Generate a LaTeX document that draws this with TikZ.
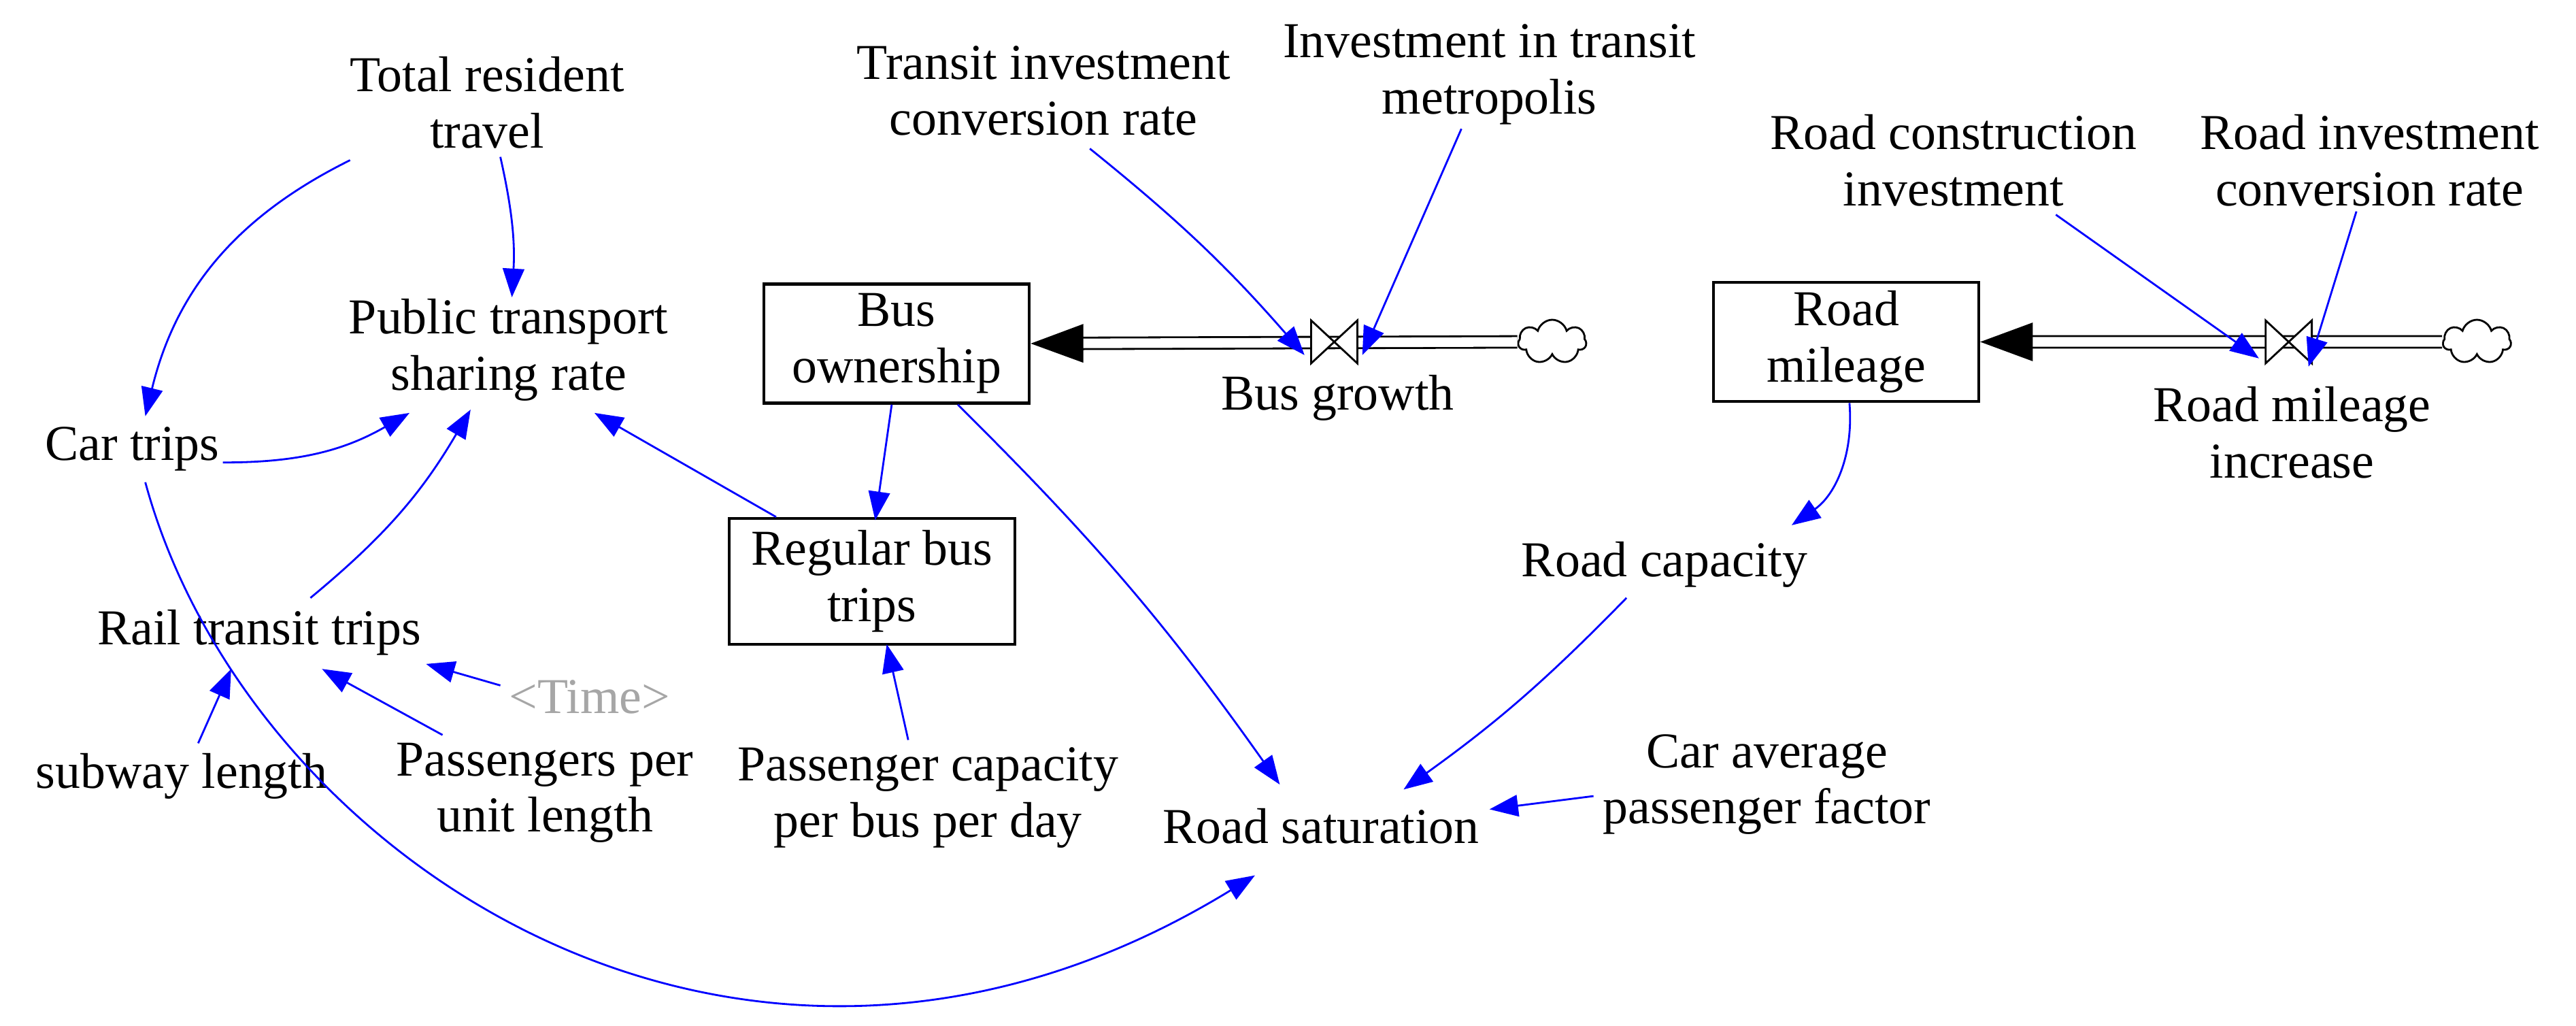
\documentclass[tikz,border=0pt]{standalone}
\usepackage{fontspec}
\setmainfont{Liberation Serif}
\usetikzlibrary{arrows.meta,shapes.geometric,shapes.symbols}
\begin{document}
\begin{tikzpicture}[x=0.024276cm,y=-0.024276cm,
 lbl/.style={align=center,font=\fontsize{21}{23.5}\selectfont,inner sep=2pt},
 box/.style={draw,very thick,lbl,minimum width=3.9cm,minimum height=1.75cm},
 ar/.style={blue,thick,-{Triangle[length=12pt,width=9pt]}},
 pipe/.style={double distance=4pt,thick,-{Triangle[length=22pt,width=16pt]}}]
\useasboundingbox (0,0) rectangle (1560,621);
\node[lbl] (tot) at (295,62) {Total resident\\travel};
\node[lbl] (pub) at (308,212) {Public transport\\sharing rate};
\node[lbl] (car) at (80,272) {Car trips};
\node[lbl] (rail) at (157,383) {Rail transit trips};
\node[lbl] (sub) at (110,470) {subway length};
\node[lbl] (ppl) at (330,480) {Passengers per\\unit length};
\node[lbl,text=gray!70] (time) at (357,422) {<Time>};
\node[box] (bus) at (543,208) {Bus\\ownership};
\node[box,minimum width=4.2cm,minimum height=1.85cm] (reg) at (528,352) {Regular bus\\trips};
\node[lbl] (pcap) at (562,483) {Passenger capacity\\per bus per day};
\node[lbl] (sat) at (800,500) {Road saturation};
\node[lbl] (cap) at (1070,475) {Car average\\passenger factor};
\node[lbl] (tic) at (632,55) {Transit investment\\conversion rate};
\node[lbl] (itm) at (902,45) {Investment in transit\\metropolis};
\node[lbl] (bg) at (810,241) {Bus growth};
\node[box] (rm) at (1118,207) {Road\\mileage};
\node[lbl] (rmi) at (1388,262) {Road mileage\\increase};
\node[lbl] (rci) at (1183,97) {Road construction\\investment};
\node[lbl] (ric) at (1435,97) {Road investment\\conversion rate};
\node[lbl] (rc) at (1008,342) {Road capacity};
% clouds
\foreach \n/\x in {c1/940,c2/1500}{
 \node[draw,thick,cloud,cloud puffs=7,minimum width=1cm,minimum height=0.65cm,inner sep=0pt] (\n) at (\x,207) {};}
% pipes
\draw[pipe] (c1.west) -- (bus.east);
\draw[pipe] (c2.west) -- (rm.east);
% valves
\foreach \n/\x in {v1/808,v2/1386}{
 \coordinate (\n) at (\x,207);
 \draw[thick,fill=white] (\x-14,194) -- (\x+14,220) -- (\x+14,194) -- (\x-14,220) -- cycle;}
% arrows
\draw[ar] (303,95) to[bend left=8] (310,180);
\draw[ar] (212,97) to[bend right=25] (88,252);
\draw[ar] (135,280) to[bend right=15] (248,250);
\draw[ar] (188,362) to[bend right=10] (285,248);
\draw[ar] (470,313) -- (360,250);
\draw[ar] (540,245) -- (530,315);
\draw[ar] (580,245) to[bend left=5] (775,475);
\draw[ar] (550,448) -- (537,390);
\draw[ar] (120,450) -- (140,405);
\draw[ar] (268,445) -- (195,405);
\draw[ar] (303,415) -- (258,402);
\draw[ar] (88,292) .. controls (150,520) and (450,720) .. (760,530);
\draw[ar] (985,362) to[bend left=5] (850,478);
\draw[ar] (965,482) -- (902,490);
\draw[ar] (1120,244) to[bend left=30] (1085,318);
\draw[ar] (660,90) to[bend left=5] (790,215);
\draw[ar] (885,78) -- (825,215);
\draw[ar] (1245,130) -- (1368,217);
\draw[ar] (1427,128) -- (1398,222);
\end{tikzpicture}
\end{document}
